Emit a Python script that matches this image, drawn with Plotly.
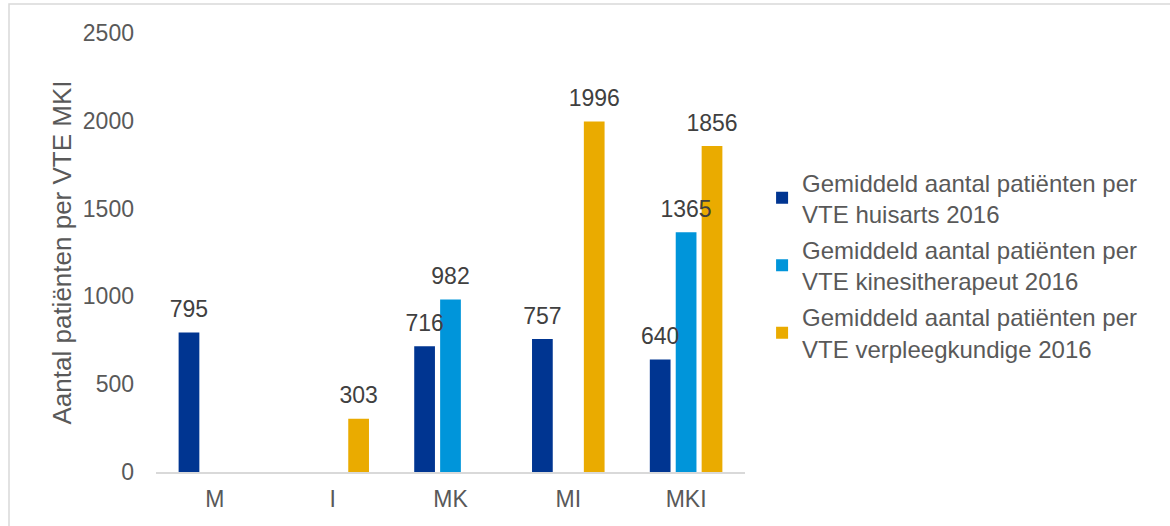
import plotly.graph_objects as go

categories = ["M", "I", "MK", "MI", "MKI"]
huisarts = [795, None, 716, 757, 640]
kinesitherapeut = [None, None, 982, None, 1365]
verpleegkundige = [None, 303, None, 1996, 1856]

series_names = [
    "Gemiddeld aantal patiënten per<br>VTE huisarts 2016",
    "Gemiddeld aantal patiënten per<br>VTE kinesitherapeut 2016",
    "Gemiddeld aantal patiënten per<br>VTE verpleegkundige 2016",
]
colors = ["#003591", "#0095DA", "#EAAB00"]
y_ticks = [0, 500, 1000, 1500, 2000, 2500]

fig = go.Figure()
all_series = [huisarts, kinesitherapeut, verpleegkundige]
for i, (name, vals, col) in enumerate(zip(series_names, all_series, colors)):
    fig.add_trace(go.Bar(
        x=categories, y=vals, name=name, legendgroup=name,
        offsetgroup=str(i),
        marker=dict(color=col, line=dict(width=0)),
        hoverinfo="skip",
    ))
# value labels drawn above all bars
for i, (name, vals) in enumerate(zip(series_names, all_series)):
    fig.add_trace(go.Scatter(
        x=categories, y=vals, mode="markers+text",
        offsetgroup=str(i), showlegend=False, legendgroup=name,
        text=[("" if v is None else str(v)) for v in vals],
        textposition="top center", cliponaxis=False,
        marker=dict(size=14, opacity=0),
        textfont=dict(size=23, color="#404040", family="Liberation Sans, Arial, sans-serif"),
        hoverinfo="skip",
    ))

fig.update_layout(
    width=1170, height=526,
    paper_bgcolor="white", plot_bgcolor="white",
    barmode="group", bargap=0.34, bargroupgap=0.2,
    scattermode="group", scattergap=0.34,
    margin=dict(l=156, r=425, t=33, b=54),
    font=dict(family="Liberation Sans, Arial, sans-serif", color="#595959", size=23),
    showlegend=True,
    legend=dict(
        x=1.029, xanchor="left", y=0.47, yanchor="middle",
        font=dict(size=24, color="#595959"),
        traceorder="grouped", tracegroupgap=2,
        itemwidth=30,
    ),
    xaxis=dict(
        showline=True, linecolor="#D9D9D9", linewidth=1.5,
        ticks="", showgrid=False, ticklabelstandoff=6,
        tickfont=dict(size=23, color="#595959"),
    ),
    yaxis=dict(
        range=[0, 2500], tickvals=y_ticks, showgrid=False, zeroline=False,
        showline=False, ticks="", ticklabelstandoff=21,
        tickfont=dict(size=23, color="#595959"),
        title=dict(text="Aantal patiënten per VTE MKI", font=dict(size=26, color="#595959"), standoff=3),
    ),
    shapes=[dict(type="rect", xref="paper", yref="paper",
                 x0=(9 - 156) / 589, x1=(1175 - 156) / 589,
                 y0=(54 - 530) / 439, y1=(526 - 4 - 54) / 439,
                 line=dict(color="#D9D9D9", width=1.5), layer="below")],
)

fig.write_html("out.html", config={"displayModeBar": False},
               post_script="document.body.style.margin='0px';")
